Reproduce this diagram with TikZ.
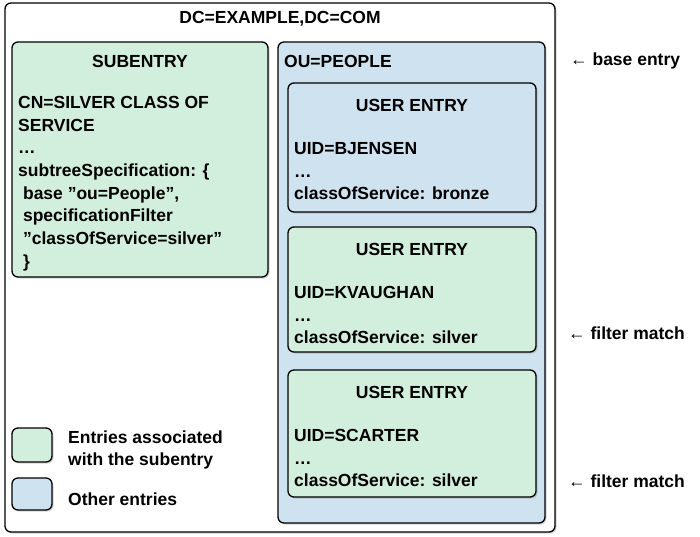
\documentclass[tikz,border=0pt]{standalone}
\usepackage{fontspec}
\setmainfont{Liberation Sans}[Ligatures=ResetAll]
\usetikzlibrary{shadows}
\definecolor{gr}{HTML}{D2EFDD}
\definecolor{bl}{HTML}{CFE2EF}
\newcommand{\dq}{\symbol{34}}
\begin{document}
\begin{tikzpicture}[x=1pt,y=-1pt,
 box/.style={draw=black,line width=1.3pt,rounded corners=6pt,drop shadow={shadow xshift=1.5pt,shadow yshift=-1.5pt,opacity=0.35}},
 txt/.style={font=\bfseries\fontsize{17.5}{22.7}\selectfont,align=left,inner sep=0pt},
 hd/.style={font=\bfseries\fontsize{17.5}{20}\selectfont,inner sep=0pt}]
\useasboundingbox (0,0) rectangle (700,536);
\draw[box,fill=white] (5,3) rectangle (555,532);
\node[hd] (title) at (280,19) {DC=EXAMPLE,DC=COM};
\draw[box,fill=gr] (12,42) rectangle (268,277);
\node[hd] (sh) at (140,61) {SUBENTRY};
\node[txt,anchor=north west] (st) at (18,96) {CN=SILVER CLASS OF\\SERVICE\\…\\subtreeSpecification: \{\\\ base \dq ou=People\dq,\\\ specificationFilter\\\ \dq classOfService=silver\dq\\\ \}};
\draw[box,fill=bl] (278,42) rectangle (545,523);
\node[hd,anchor=west] (ou) at (284,61) {OU=PEOPLE};
\foreach \t/\b/\u/\c/\f in {83/212/BJENSEN/bronze/bl,227/352/KVAUGHAN/silver/gr,370/497/SCARTER/silver/gr}{
 \draw[box,fill=\f] (288,\t) rectangle (536,\b);
 \node[hd] at (412,\t+22) {USER ENTRY};
 \node[txt,anchor=north west] at (294,\t+59) {UID=\u\\…\\classOfService: \c};
}
\draw[box,fill=gr] (12,428) rectangle (52,462);
\node[txt,anchor=west] (l1) at (68,450) {Entries associated\\with the subentry};
\draw[box,fill=bl] (12,478) rectangle (52,510);
\node[txt,anchor=west] (l2) at (68,499) {Other entries};
\node[hd,anchor=west] (a1) at (570,61) {← base entry};
\node[hd,anchor=west] (a2) at (568,333) {← filter match};
\node[hd,anchor=west] (a3) at (568,481) {← filter match};
\end{tikzpicture}
\end{document}
